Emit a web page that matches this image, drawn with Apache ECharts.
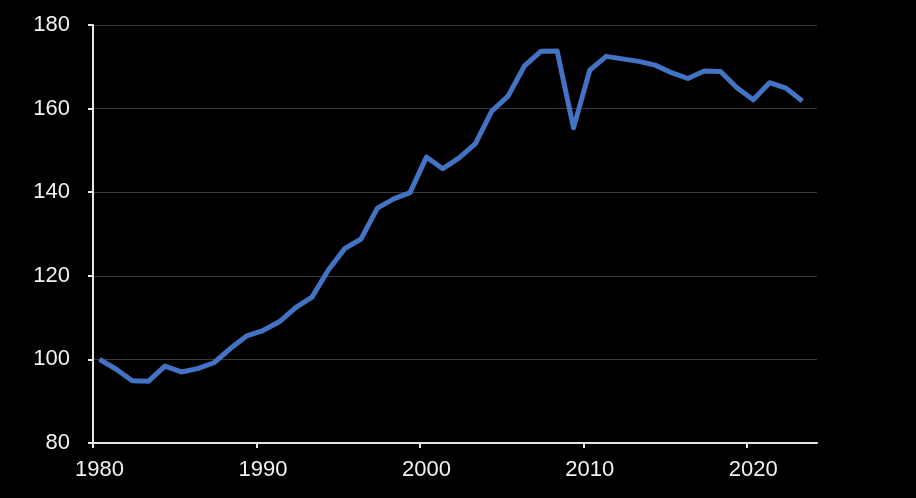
<!DOCTYPE html>
<html><head><meta charset="utf-8">
<script src="https://cdn.jsdelivr.net/npm/echarts@6/dist/echarts.min.js"></script>
<style>html,body{margin:0;padding:0;background:#000}#c{width:916px;height:498px}</style>
</head><body><div id="c"></div>
<script>
const years = [1980,1981,1982,1983,1984,1985,1986,1987,1988,1989,
  1990,1991,1992,1993,1994,1995,1996,1997,1998,1999,
  2000,2001,2002,2003,2004,2005,2006,2007,2008,2009,
  2010,2011,2012,2013,2014,2015,2016,2017,2018,2019,
  2020,2021,2022,2023];
const values = [100.0,97.7,94.9,94.8,98.4,97.0,97.8,99.2,102.6,105.6,
  106.9,109.0,112.4,114.9,121.4,126.5,128.8,136.2,138.4,139.9,
  148.4,145.6,148.2,151.6,159.4,163.0,170.2,173.7,173.8,155.4,
  169.2,172.5,171.9,171.3,170.4,168.6,167.2,169.0,168.9,165.0,
  162.1,166.2,164.9,161.8];
const tickLabels = ['1980','1990','2000','2010','2020'];
const tickOffset = 0.4; // tick marks sit slightly before each labelled year, as in the reference

const chart = echarts.init(document.getElementById('c'));
const font = "'Liberation Sans',Arial,sans-serif";
const labelVals = tickLabels.map(t => Number(t));
const tickVals = labelVals.map(v => v - tickOffset);
chart.setOption({
  backgroundColor: '#000',
  animation: false,
  grid: { left: 93, right: 99, top: 25, bottom: 55, containLabel: false },
  xAxis: {
    type: 'value',
    min: years[0] - tickOffset,
    max: 2023.9,
    axisLine: { show: true, onZero: false, lineStyle: { color: '#e6e6e6', width: 2 } },
    axisTick: { show: true, length: 5, customValues: tickVals, lineStyle: { color: '#e6e6e6', width: 2 } },
    axisLabel: { customValues: labelVals, color: '#f2f2f2', fontFamily: font, fontSize: 22, margin: 16,
      formatter: v => String(Math.round(v)) },
    splitLine: { show: false }
  },
  yAxis: {
    type: 'value', min: 80, max: 180, interval: 20,
    axisLine: { show: true, lineStyle: { color: '#e6e6e6', width: 2 } },
    axisTick: { show: true, length: 5, lineStyle: { color: '#e6e6e6', width: 2 } },
    axisLabel: { color: '#f2f2f2', fontFamily: font, fontSize: 22, margin: 23 },
    splitLine: { show: true, lineStyle: { color: '#3a3a3a', width: 1 } }
  },
  series: [{
    type: 'line',
    data: years.map((y, i) => [y, values[i]]),
    showSymbol: false,
    lineStyle: { color: '#4472C4', width: 5, join: 'round' }
  }]
});
</script></body></html>
